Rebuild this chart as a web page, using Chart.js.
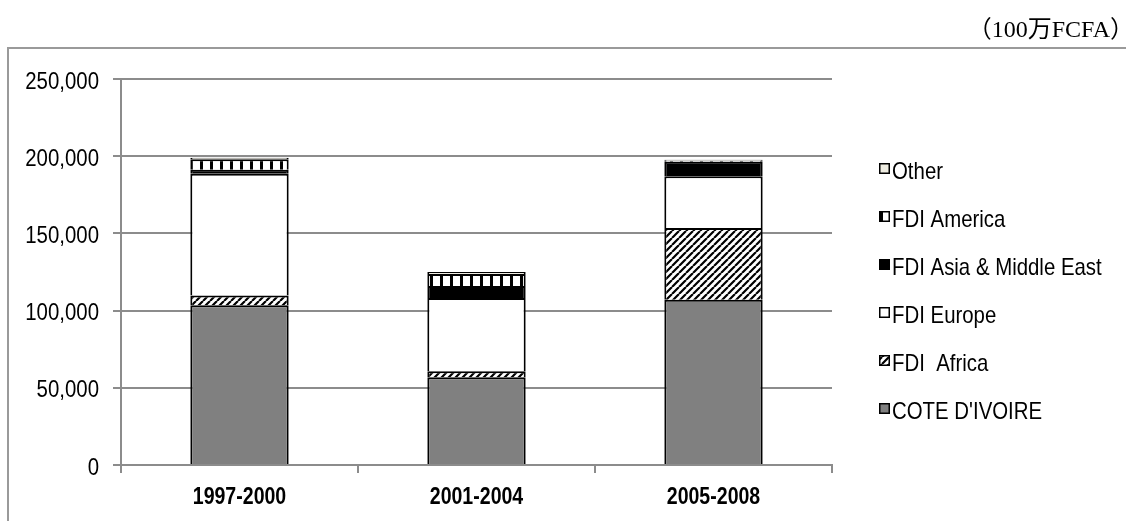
<!DOCTYPE html>
<html>
<head>
<meta charset="utf-8">
<script src="https://cdn.jsdelivr.net/npm/chart.js@4"></script>
<style>
  html, body { margin: 0; padding: 0; background: #fff; }
  canvas { display: block; }
</style>
</head>
<body>
<canvas id="chart" width="1126" height="521"></canvas>
<script>
// Inflows by period (millions of FCFA), stacked bottom to top
const periods = ['1997-2000', '2001-2004', '2005-2008'];
const coteDIvoire = [103500, 56800, 107100];
const fdiAfrica = [6200, 3900, 46400];
const fdiEurope = [78900, 47400, 33500];
const fdiAsiaMiddleEast = [2600, 7800, 9400];
const fdiAmerica = [6800, 7800, 700];
const otherSources = [1000, 1300, 600];
const yTicks = [0, 50000, 100000, 150000, 200000, 250000];
const unitLabel = '（100万FCFA）';

const SANS = '"Liberation Sans", Arial, sans-serif';
const SERIF = '"Liberation Serif", "Times New Roman", "Noto Sans CJK JP", serif';
const NARROW_X = 0.85;          // horizontal squeeze for a narrow sans look
const AXIS_GREY = '#8c8c8c';

function tile(w, h, paint) {
  const c = document.createElement('canvas');
  c.width = w; c.height = h;
  const g = c.getContext('2d');
  paint(g, w, h);
  return g.createPattern(c, 'repeat');
}

// forward diagonal hatch
const hatch = tile(7, 7, (g, w, h) => {
  g.fillStyle = '#fff'; g.fillRect(0, 0, w, h);
  g.strokeStyle = '#000'; g.lineWidth = 2.2;
  g.beginPath();
  for (let o = -w; o <= 2 * w; o += w) { g.moveTo(o, h); g.lineTo(o + w, 0); }
  g.stroke();
});

// film-strip style vertical bars
const strip = tile(10, 10, (g, w, h) => {
  g.fillStyle = '#fff'; g.fillRect(0, 0, w, h);
  g.fillStyle = '#000'; g.fillRect(0, 0, 3, h);
});

const series = [
  { label: "COTE D'IVOIRE", data: coteDIvoire, backgroundColor: '#808080' },
  { label: 'FDI  Africa', data: fdiAfrica, backgroundColor: hatch },
  { label: 'FDI Europe', data: fdiEurope, backgroundColor: '#ffffff' },
  { label: 'FDI Asia & Middle East', data: fdiAsiaMiddleEast, backgroundColor: '#000000' },
  { label: 'FDI America', data: fdiAmerica, backgroundColor: strip },
  { label: 'Other', data: otherSources, backgroundColor: '#eeece1' }
];

// text squeezed horizontally around its anchor
function narrowText(ctx, text, x, y, align, font) {
  ctx.save();
  ctx.font = font;
  ctx.textAlign = align;
  ctx.textBaseline = 'alphabetic';
  ctx.translate(x, y);
  ctx.scale(NARROW_X, 1);
  ctx.fillText(text, 0, 0);
  ctx.restore();
}

const frameLabelsLegend = {
  id: 'frameLabelsLegend',
  beforeDraw(chart) {
    const ctx = chart.ctx;
    ctx.save();
    ctx.fillStyle = '#fff';
    ctx.fillRect(0, 0, chart.width, chart.height);
    ctx.strokeStyle = '#9a9a9a';
    ctx.lineWidth = 2;
    ctx.beginPath();
    ctx.moveTo(8, 48); ctx.lineTo(chart.width, 48);
    ctx.moveTo(8, 47); ctx.lineTo(8, chart.height);
    ctx.stroke();
    ctx.restore();
  },
  afterDraw(chart) {
    const ctx = chart.ctx;
    const xs = chart.scales.x, ys = chart.scales.y;
    ctx.save();
    ctx.fillStyle = '#000';

    // value axis labels
    yTicks.forEach(v => {
      narrowText(ctx, v.toLocaleString('en-US'), 99, ys.getPixelForValue(v) + 9.5, 'right', '24px ' + SANS);
    });
    // category labels
    periods.forEach((p, i) => {
      narrowText(ctx, p, xs.getPixelForValue(i), 504, 'center', 'bold 23px ' + SANS);
    });

    // unit caption (the full-width closing bracket carries its own right margin)
    ctx.font = '24px ' + SERIF;
    ctx.textAlign = 'right';
    ctx.textBaseline = 'alphabetic';
    ctx.fillText(unitLabel, 1134, 37);

    // legend, top entry is the top of the stack
    const sets = chart.data.datasets.slice().reverse();
    sets.forEach((ds, i) => {
      const base = 179 + i * 48;
      ctx.fillStyle = ds.backgroundColor;
      ctx.fillRect(879, base - 16, 11, 11);
      ctx.strokeStyle = '#000';
      ctx.lineWidth = 1.5;
      ctx.strokeRect(879.75, base - 15.25, 9.5, 9.5);
      ctx.fillStyle = '#000';
      narrowText(ctx, ds.label, 892, base, 'left', '24px ' + SANS);
    });
    ctx.restore();
  }
};

new Chart(document.getElementById('chart'), {
  type: 'bar',
  data: {
    labels: periods,
    datasets: series.map(s => Object.assign({
      borderColor: '#000',
      borderWidth: 2,
      barPercentage: 0.415,
      categoryPercentage: 1
    }, s))
  },
  options: {
    responsive: false,
    animation: false,
    devicePixelRatio: 1,
    layout: { padding: { top: 79, right: 294, left: 0, bottom: 0 } },
    plugins: { legend: { display: false }, tooltip: { enabled: false } },
    scales: {
      x: {
        stacked: true,
        offset: true,
        grid: { display: true, drawOnChartArea: false, drawTicks: true, tickLength: 8, offset: true, color: AXIS_GREY, lineWidth: 2 },
        border: { display: true, color: AXIS_GREY, width: 2 },
        ticks: { display: false },
        afterFit(s) { s.height = 56; }
      },
      y: {
        stacked: true,
        min: 0,
        max: 250000,
        afterBuildTicks(s) { s.ticks = yTicks.map(v => ({ value: v })); },
        grid: { color: AXIS_GREY, lineWidth: 2, drawTicks: true, tickLength: 8 },
        border: { display: true, color: AXIS_GREY, width: 2 },
        ticks: { display: false },
        afterFit(s) { s.width = 121; }
      }
    }
  },
  plugins: [frameLabelsLegend]
});
</script>
</body>
</html>
